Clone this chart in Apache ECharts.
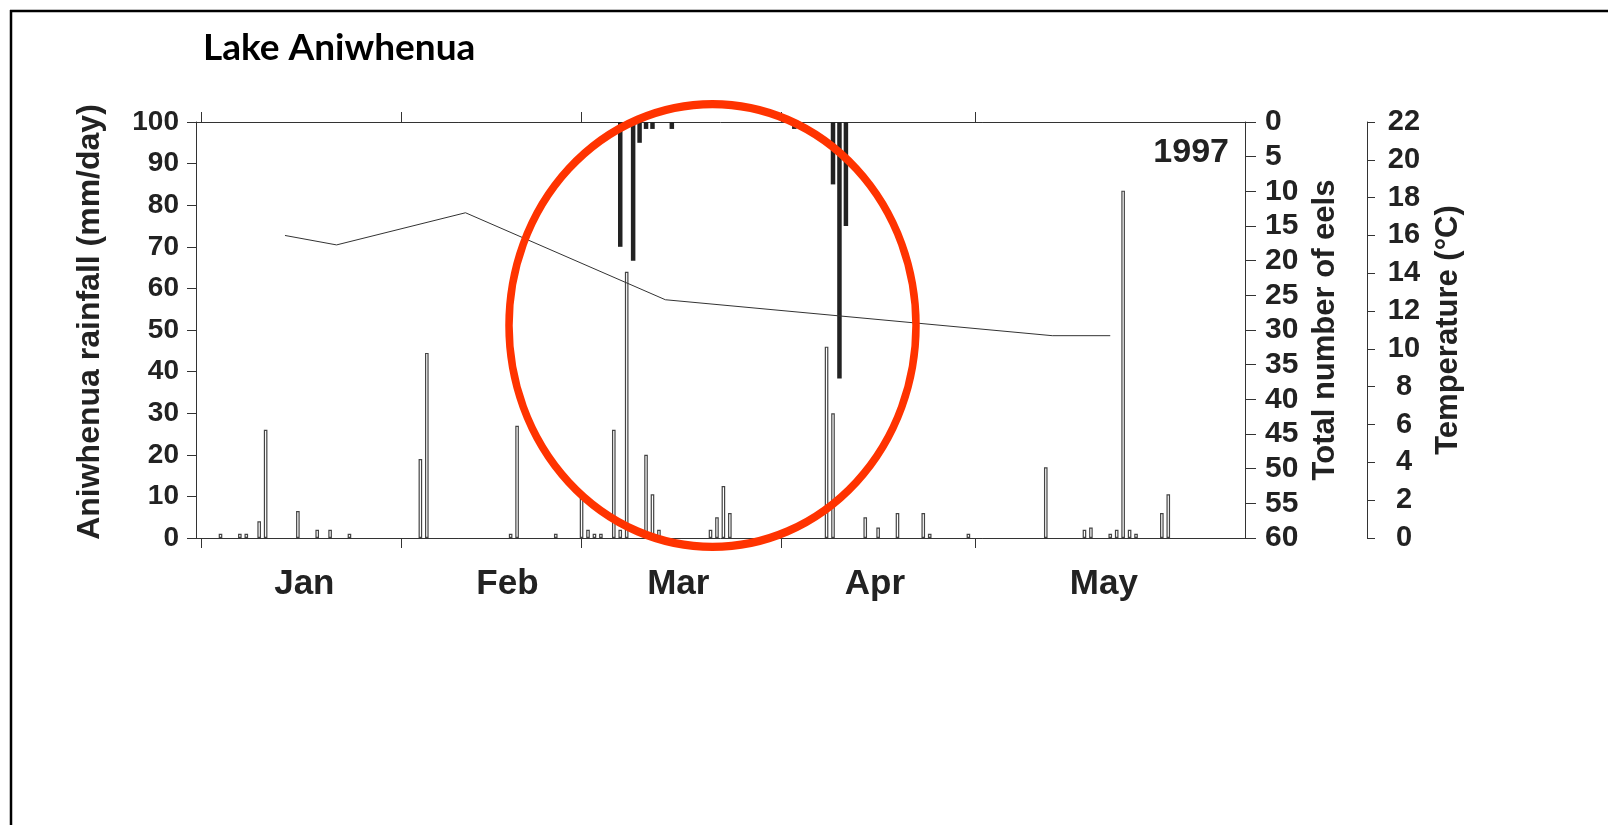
<!DOCTYPE html>
<html>
<head>
<meta charset="utf-8">
<title>Lake Aniwhenua 1997</title>
<script src="https://cdn.jsdelivr.net/npm/echarts@6/dist/echarts.min.js"></script>
<style>
  html, body { margin: 0; padding: 0; background: #fff; }
  #chart { width: 1608px; height: 825px; }
</style>
</head>
<body>
<div id="chart"></div>
<script>
// Day of year (1 = 1 Jan 1997)
const monthTickDays = [1, 32, 60, 91, 121];
const monthLabelDays = [17, 48.5, 75, 105.5, 141];
const monthNames = ['Jan', 'Feb', 'Mar', 'Apr', 'May'];

// Daily rainfall (mm/day)
const rainDays = [4, 7, 8, 10, 11, 16, 19, 21, 24, 35, 36, 49, 50, 56, 60, 61, 62, 63, 65, 66, 67,
  70, 71, 72, 80, 81, 82, 83, 98, 99, 104, 106, 109, 113, 114, 120, 132, 138, 139, 142, 143,
  144, 145, 146, 150, 151];
const rainMm = [1, 1, 1, 4, 26, 6.5, 2, 2, 1, 19, 44.5, 1, 27, 1, 10.5, 2, 1, 1, 26, 2, 64,
  20, 10.5, 2, 2, 5, 12.5, 6, 46, 30, 5, 2.5, 6, 6, 1, 1, 17, 2, 2.5, 1, 2,
  83.5, 2, 1, 6, 10.5];

// Eels caught per day
const eelDays = [66, 68, 69, 70, 71, 74, 93, 99, 100, 101];
const eelCount = [18, 20, 3, 1, 1, 1, 1, 9, 37, 15];

// Water temperature (°C)
const tempDays = [14, 22, 42, 73, 133, 142];
const tempC = [16.0, 15.5, 17.2, 12.6, 10.7, 10.7];

const X_MIN = 0.2;
const X_MAX = 162.9;
const AXIS_COLOR = '#333';
const TEXT_COLOR = '#222';
const FONT = '"Liberation Sans", Arial, sans-serif';

const chart = echarts.init(document.getElementById('chart'), null, { renderer: 'canvas' });

const zip = (xs, ys) => xs.map((x, i) => [x, ys[i]]);

function monthAxis(position, showLabels) {
  return {
    type: 'value',
    position: position,
    min: X_MIN,
    max: X_MAX,
    axisLine: { show: true, onZero: false, lineStyle: { color: AXIS_COLOR, width: 1 } },
    axisTick: { show: true, inside: false, length: 10, customValues: monthTickDays,
      lineStyle: { color: AXIS_COLOR, width: 1 } },
    axisLabel: showLabels ? {
      show: true,
      customValues: monthLabelDays,
      formatter: v => monthNames[monthLabelDays.indexOf(v)] || '',
      margin: 29,
      fontSize: 35,
      fontWeight: 'bold',
      fontFamily: FONT,
      color: TEXT_COLOR
    } : { show: false },
    splitLine: { show: false }
  };
}

function yAxisBase(extra) {
  return Object.assign({
    type: 'value',
    axisLine: { show: true, onZero: false, lineStyle: { color: AXIS_COLOR, width: 1 } },
    splitLine: { show: false },
    nameLocation: 'middle'
  }, extra);
}

const nameStyle = (size, padding) => ({
  fontSize: size, fontWeight: 'bold', fontFamily: FONT, color: TEXT_COLOR, padding: padding
});

const option = {
  animation: false,
  backgroundColor: '#fff',
  grid: { left: 196, right: 363, top: 122, bottom: 287, containLabel: false, outerBoundsMode: 'none' },
  xAxis: [monthAxis('bottom', true), monthAxis('top', false)],
  yAxis: [
    yAxisBase({
      position: 'left', min: 0, max: 100, interval: 10,
      name: 'Aniwhenua rainfall (mm/day)', nameGap: 90,
      nameTextStyle: nameStyle(32, [0, 0, 0, 16]),
      axisTick: { show: true, length: 9, lineStyle: { color: AXIS_COLOR } },
      axisLabel: { margin: 17, fontSize: 28, fontWeight: 'bold', fontFamily: FONT, color: TEXT_COLOR }
    }),
    yAxisBase({
      position: 'right', min: 0, max: 60, interval: 5, inverse: true,
      name: 'Total number of eels', nameGap: 65,
      nameTextStyle: nameStyle(31, 0),
      axisTick: { show: true, length: 11, lineStyle: { color: AXIS_COLOR } },
      axisLabel: { margin: 20, fontSize: 30, fontWeight: 'bold', fontFamily: FONT, color: TEXT_COLOR }
    }),
    yAxisBase({
      position: 'right', offset: 122, min: 0, max: 22, interval: 2,
      name: 'Temperature (°C)', nameGap: 66,
      nameTextStyle: nameStyle(31, 0),
      axisTick: { show: true, length: 8, lineStyle: { color: AXIS_COLOR } },
      axisLabel: { margin: 37, align: 'center', fontSize: 29, fontWeight: 'bold', fontFamily: FONT, color: TEXT_COLOR }
    })
  ],
  series: [
    {
      name: 'Rainfall',
      type: 'bar',
      xAxisIndex: 0,
      yAxisIndex: 0,
      barWidth: 3.6,
      data: zip(rainDays, rainMm),
      itemStyle: { color: '#fff', borderColor: '#444', borderWidth: 1.2 },
      z: 2
    },
    {
      name: 'Eels',
      type: 'bar',
      xAxisIndex: 1,
      yAxisIndex: 1,
      barWidth: 4.5,
      data: zip(eelDays, eelCount),
      itemStyle: { color: '#222' },
      z: 3
    },
    {
      name: 'Temperature',
      type: 'line',
      xAxisIndex: 0,
      yAxisIndex: 2,
      symbol: 'none',
      data: zip(tempDays, tempC),
      lineStyle: { color: '#333', width: 1 },
      z: 4
    }
  ],
  graphic: [
    { type: 'line', shape: { x1: 11, y1: 10, x2: 11, y2: 825 }, style: { stroke: '#000', lineWidth: 2.5 }, z: 10 },
    { type: 'line', shape: { x1: 10, y1: 11, x2: 1608, y2: 11 }, style: { stroke: '#000', lineWidth: 2.5 }, z: 10 },
    {
      type: 'text', left: 203, top: 30, z: 10,
      style: { text: 'Lake Aniwhenua', font: 'bold 37px Lato, "Open Sans", sans-serif', fill: '#000' }
    },
    {
      type: 'text', x: 1229, y: 153, z: 10,
      style: { text: '1997', font: 'bold 34px ' + FONT, fill: TEXT_COLOR, textAlign: 'right', textVerticalAlign: 'middle' }
    },
    {
      type: 'circle', x: 712.5, y: 325.5, scaleY: 1.088, z: 20,
      shape: { cx: 0, cy: 0, r: 203.5 },
      style: { fill: 'none', stroke: '#ff3300', lineWidth: 7.5, strokeNoScale: true }
    }
  ]
};

chart.setOption(option);
</script>
</body>
</html>
